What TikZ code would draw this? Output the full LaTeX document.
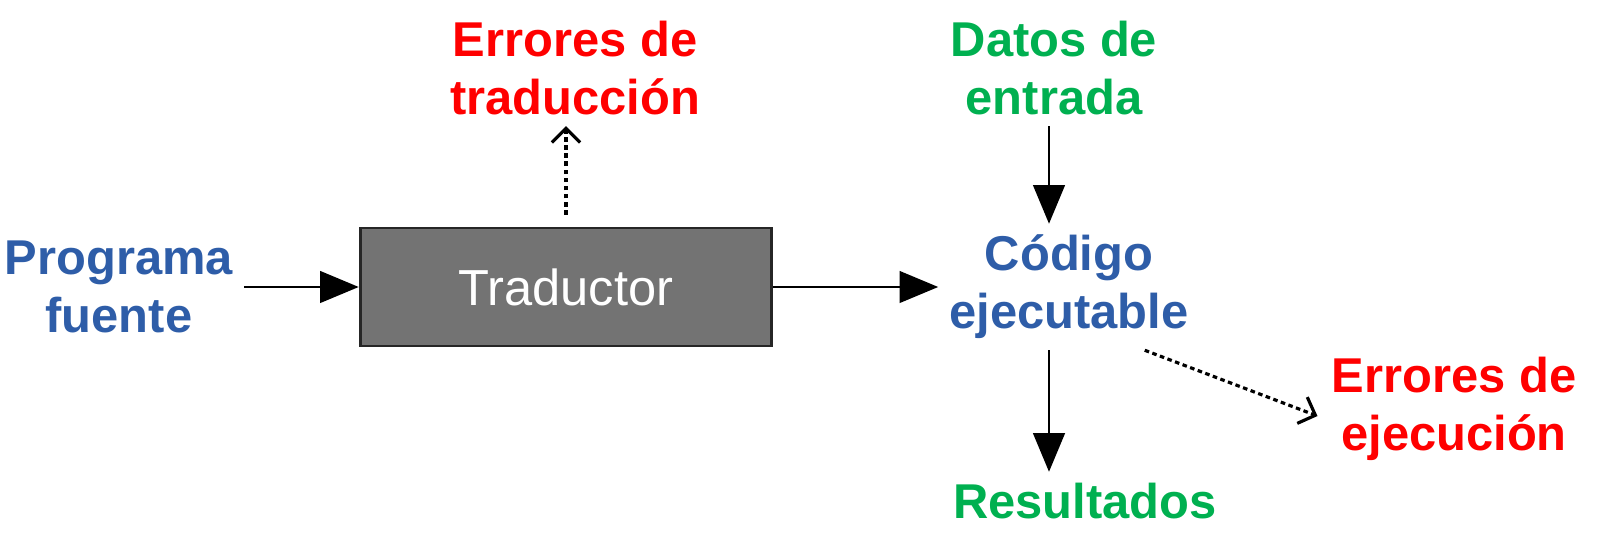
\documentclass[tikz,border=0pt]{standalone}
\usepackage{fontspec}
\setmainfont{Liberation Sans}
\usetikzlibrary{positioning,arrows.meta}
\definecolor{azul}{HTML}{2E5DA8}
\definecolor{rojo}{HTML}{FF0000}
\definecolor{verde}{HTML}{00B050}
\definecolor{gris}{HTML}{737373}

\begin{document}
\begin{tikzpicture}[x=0.01cm, y=-0.01cm,
  etiqueta/.style={font=\fontsize{13.9}{16.5}\selectfont\bfseries, align=center, inner sep=3pt},
  flecha/.style={line width=0.7pt, -{Triangle[length=11pt,width=9pt]}},
  punteada/.style={line width=0.9pt, dash pattern=on 1.3pt off 1pt, -{Straight Barb[length=4pt,width=8pt]}}]
  \useasboundingbox (0,0) rectangle (1597,534);
  % bloque traductor
  \node[draw=black!85, fill=gris, line width=0.8pt, minimum width=4.115cm, minimum height=1.18cm,
        text=white, font=\fontsize{14.4}{17}\selectfont] (trad) at (566,287) {Traductor};
  % textos
  \node[etiqueta, azul] (prog) at (119,287) {Programa\\fuente};
  \node[etiqueta, azul] (cod) at (1069,287) {Código\\ejecutable};
  \node[etiqueta, rojo] (errtrad) at (575,68) {Errores de\\traducción};
  \node[etiqueta, verde] (datos) at (1054,68) {Datos de\\entrada};
  \node[etiqueta, verde] (res) at (1085,501) {Resultados};
  \node[etiqueta, rojo] (errejec) at (1454,409) {Errores de\\ejecución};
  \coordinate (ejeD) at (1049,0);
  % flechas
  \draw[flecha] (prog) -- (trad);
  \draw[flecha] (trad) -- (cod);
  \draw[flecha] (datos.south -| ejeD) -- (cod.north -| ejeD);
  \draw[flecha] (cod.south -| ejeD) -- (res.north -| ejeD);
  \draw[punteada, shorten <=3.4pt] (trad.north) -- (trad.north |- errtrad.south);
  \draw[punteada] ([xshift=-0.55cm]cod.south east) -- ([xshift=-0.03cm, yshift=-2pt]errejec.west);
\end{tikzpicture}
\end{document}
